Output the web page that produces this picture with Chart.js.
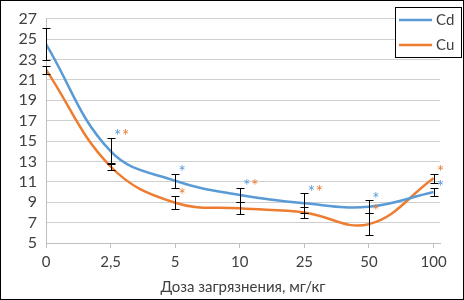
<!DOCTYPE html>
<html>
<head>
<meta charset="utf-8">
<script src="https://cdn.jsdelivr.net/npm/chart.js@4"></script>
<style>
  html, body { margin: 0; padding: 0; background: #fff; }
  #wrap { width: 464px; height: 300px; position: relative; }
</style>
</head>
<body>
<div id="wrap"><canvas id="chart" width="464" height="300"></canvas></div>
<script>
// Chart data
const doseLabels = ['0', '2,5', '5', '10', '25', '50', '100'];
const cdValues = [24.5, 14.0, 11.1, 9.7, 8.9, 8.55, 10.0];
const cuValues = [22.0, 12.5, 8.95, 8.4, 8.0, 6.85, 11.35];
const cdErrors = [1.6, 1.3, 0.7, 0.7, 1.0, 0.65, 0.35];
const cuErrors = [0.4, 0.3, 0.65, 0.6, 0.5, 1.1, 0.45];
const cdMarks = ['', '*', '*', '*', '*', '*', '*'];
const cuMarks = ['', '*', '*', '*', '*', '*', '*'];
const yTicks = [5, 7, 9, 11, 13, 15, 17, 19, 21, 23, 25, 27];

const BLUE = '#5B9BD5';
const ORANGE = '#ED7D31';
const TEXT = '#404040';
const FONT = "Lato, 'Open Sans', sans-serif";

// marks drawn side by side above the Cd bar, or each above its own bar
const marksPaired = [false, true, false, true, true, false, false];

function toPoints(values) {
    return values.map((v, i) => ({ x: i, y: v }));
}

// Error bars and significance marks
const errorBarPlugin = {
    id: 'errorBars',
    afterDatasetsDraw(chart) {
        const ctx = chart.ctx;
        const xs = chart.scales.x;
        const ys = chart.scales.y;
        const sets = [
            { values: cdValues, errors: cdErrors },
            { values: cuValues, errors: cuErrors }
        ];
        ctx.save();
        ctx.strokeStyle = '#000';
        ctx.lineWidth = 1;
        sets.forEach(s => {
            s.values.forEach((v, i) => {
                const x = Math.round(xs.getPixelForValue(i)) + 0.5;
                const top = Math.round(ys.getPixelForValue(v + s.errors[i])) + 0.5;
                const bot = Math.round(ys.getPixelForValue(v - s.errors[i])) + 0.5;
                ctx.beginPath();
                ctx.moveTo(x, top); ctx.lineTo(x, bot);
                ctx.moveTo(x - 4, top); ctx.lineTo(x + 4, top);
                ctx.moveTo(x - 4, bot); ctx.lineTo(x + 4, bot);
                ctx.stroke();
            });
        });

        ctx.font = '17px ' + FONT;
        ctx.textAlign = 'center';
        ctx.textBaseline = 'middle';
        doseLabels.forEach((_, i) => {
            const x = xs.getPixelForValue(i);
            const cdTop = ys.getPixelForValue(cdValues[i] + cdErrors[i]);
            const cuTop = ys.getPixelForValue(cuValues[i] + cuErrors[i]);
            ctx.fillStyle = BLUE;
            ctx.fillText(cdMarks[i], x + 7, cdTop - 1);
            ctx.fillStyle = ORANGE;
            if (marksPaired[i]) {
                ctx.fillText(cuMarks[i], x + 15, cdTop - 1);
            } else {
                ctx.fillText(cuMarks[i], x + 7, cuTop - 1);
            }
        });
        ctx.restore();
    }
};

// Boxed legend in the top right corner and the outer frame
const framePlugin = {
    id: 'frame',
    afterDraw(chart) {
        const ctx = chart.ctx;
        ctx.save();
        ctx.strokeStyle = '#000';
        ctx.lineWidth = 1;
        ctx.strokeRect(0.5, 0.5, 463, 299);

        ctx.fillStyle = '#fff';
        ctx.fillRect(395, 7, 67, 50);
        ctx.strokeRect(395.5, 7.5, 66, 50);

        const items = [
            { label: 'Cd', color: BLUE, y: 20 },
            { label: 'Cu', color: ORANGE, y: 45 }
        ];
        ctx.font = '15px ' + FONT;
        ctx.textBaseline = 'middle';
        ctx.textAlign = 'left';
        items.forEach(it => {
            ctx.strokeStyle = it.color;
            ctx.lineWidth = 2.5;
            ctx.beginPath();
            ctx.moveTo(399, it.y);
            ctx.lineTo(432, it.y);
            ctx.stroke();
            ctx.fillStyle = TEXT;
            ctx.fillText(it.label, 436, it.y);
        });
        ctx.restore();
    }
};

new Chart(document.getElementById('chart').getContext('2d'), {
    type: 'line',
    data: {
        datasets: [{
            label: 'Cd',
            data: toPoints(cdValues),
            borderColor: BLUE,
            borderWidth: 2.5,
            pointRadius: 0,
            tension: 0.4,
            fill: false
        }, {
            label: 'Cu',
            data: toPoints(cuValues),
            borderColor: ORANGE,
            borderWidth: 2.5,
            pointRadius: 0,
            tension: 0.4,
            fill: false
        }]
    },
    options: {
        responsive: false,
        animation: false,
        layout: {
            padding: { left: 0, right: 24, top: 15, bottom: 0 }
        },
        plugins: {
            legend: { display: false },
            tooltip: { enabled: false }
        },
        scales: {
            x: {
                type: 'linear',
                min: 0,
                max: 6.1,
                afterBuildTicks: axis => {
                    axis.ticks = doseLabels.map((_, i) => ({ value: i }));
                },
                afterFit: axis => { axis.height = 57; },
                grid: {
                    display: true,
                    drawOnChartArea: false,
                    color: '#bfbfbf',
                    tickLength: 5
                },
                border: { color: '#bfbfbf' },
                ticks: {
                    color: TEXT,
                    font: { family: FONT, size: 15 },
                    padding: 5,
                    maxRotation: 0,
                    autoSkip: false,
                    callback: value => doseLabels[value]
                },
                title: {
                    display: true,
                    text: 'Доза загрязнения, мг/кг',
                    color: TEXT,
                    font: { family: FONT, size: 15 },
                    padding: { top: 2, bottom: 4 }
                }
            },
            y: {
                min: 5,
                max: 27,
                afterBuildTicks: axis => {
                    axis.ticks = yTicks.map(v => ({ value: v }));
                },
                afterFit: axis => { axis.width = 46; },
                grid: {
                    color: '#d0d0d0',
                    drawTicks: false
                },
                border: { color: '#bfbfbf' },
                ticks: {
                    color: TEXT,
                    font: { family: FONT, size: 16 },
                    padding: 9,
                    autoSkip: false
                }
            }
        }
    },
    plugins: [errorBarPlugin, framePlugin]
});
</script>
</body>
</html>
